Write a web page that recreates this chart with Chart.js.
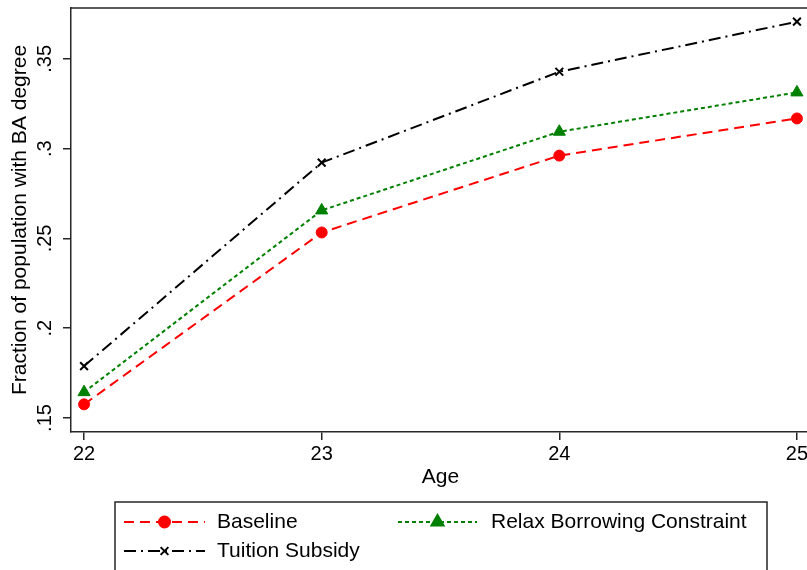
<!DOCTYPE html>
<html>
<head>
<meta charset="utf-8">
<script src="https://cdn.jsdelivr.net/npm/chart.js@4/dist/chart.umd.min.js"></script>
<style>
  html, body { margin: 0; padding: 0; background: #fff; overflow: hidden; }
  #wrap { width: 820px; height: 570px; }
</style>
</head>
<body>
<div id="wrap"><canvas id="ageChart" width="820" height="570"></canvas></div>
<script>
// Data
const ages = [22, 23, 24, 25];
const baseline = [0.1576, 0.2533, 0.2961, 0.3168];
const relaxBorrowing = [0.1644, 0.2656, 0.3094, 0.3313];
const tuitionSubsidy = [0.1789, 0.2922, 0.3428, 0.3707];
const yTicks = [0.15, 0.2, 0.25, 0.3, 0.35];
const yTickLabels = ['.15', '.2', '.25', '.3', '.35'];
const seriesNames = ['Baseline', 'Relax Borrowing Constraint', 'Tuition Subsidy'];

const FONT = '"Liberation Sans", Arial, Helvetica, sans-serif';
const frameColor = '#262626';

const toPoints = vals => ages.map((a, i) => ({ x: a, y: vals[i] }));

const datasets = [
  {
    label: seriesNames[0],
    data: toPoints(baseline),
    borderColor: '#ff0000',
    backgroundColor: '#ff0000',
    borderDash: [10, 6],
    pointStyle: 'circle',
    pointRadius: 5.5,
    pointBorderWidth: 1
  },
  {
    label: seriesNames[1],
    data: toPoints(relaxBorrowing),
    borderColor: '#008000',
    backgroundColor: '#008000',
    borderDash: [4, 3],
    pointStyle: 'triangle',
    pointRadius: 7,
    pointBorderWidth: 1
  },
  {
    label: seriesNames[2],
    data: toPoints(tuitionSubsidy),
    borderColor: '#000000',
    backgroundColor: '#000000',
    borderDash: [12, 5, 2, 5],
    pointStyle: 'crossRot',
    pointRadius: 5.5,
    pointBorderWidth: 2
  }
];
datasets.forEach(d => { d.borderWidth = 2; d.tension = 0; d.fill = false; });

// Extra drawing: frame top, rotated y tick labels, axis titles, legend box
const stataDecor = {
  id: 'stataDecor',
  afterDraw(chart) {
    const { ctx, chartArea, scales } = chart;
    ctx.save();

    // remaining sides of the plot frame
    ctx.strokeStyle = frameColor;
    ctx.lineWidth = 1.5;
    ctx.beginPath();
    ctx.moveTo(chartArea.left, chartArea.top);
    ctx.lineTo(chartArea.right, chartArea.top);
    ctx.lineTo(chartArea.right, chartArea.bottom);
    ctx.stroke();

    // y tick labels, rotated like Stata
    ctx.fillStyle = '#000';
    ctx.font = '20px ' + FONT;
    ctx.textAlign = 'center';
    ctx.textBaseline = 'middle';
    yTicks.forEach((v, i) => {
      const y = scales.y.getPixelForValue(v);
      ctx.save();
      ctx.translate(45, y);
      ctx.rotate(-Math.PI / 2);
      ctx.fillText(yTickLabels[i], 0, 0);
      ctx.restore();
    });

    // axis titles
    ctx.font = '21px ' + FONT;
    ctx.save();
    ctx.translate(20, (chartArea.top + chartArea.bottom) / 2);
    ctx.rotate(-Math.PI / 2);
    ctx.fillText('Fraction of population with BA degree', 0, 0);
    ctx.restore();
    ctx.fillText('Age', (chartArea.left + chartArea.right) / 2, 477);

    // legend
    ctx.strokeStyle = frameColor;
    ctx.lineWidth = 1.5;
    ctx.strokeRect(115, 502, 652, 100);

    const slots = [
      { x0: 124, x1: 205, y: 522, tx: 217 },
      { x0: 398, x1: 477, y: 522, tx: 491 },
      { x0: 124, x1: 205, y: 551, tx: 217 }
    ];
    chart.data.datasets.forEach((ds, i) => {
      const s = slots[i];
      ctx.save();
      ctx.strokeStyle = ds.borderColor;
      ctx.lineWidth = ds.borderWidth;
      ctx.setLineDash(ds.borderDash);
      ctx.beginPath();
      ctx.moveTo(s.x0, s.y);
      ctx.lineTo(s.x1, s.y);
      ctx.stroke();
      ctx.setLineDash([]);
      ctx.fillStyle = ds.backgroundColor;
      Chart.helpers.drawPoint(ctx, {
        pointStyle: ds.pointStyle,
        radius: ds.pointRadius,
        borderWidth: ds.pointBorderWidth,
        rotation: 0
      }, (s.x0 + s.x1) / 2, s.y);
      ctx.restore();

      ctx.fillStyle = '#000';
      ctx.textAlign = 'left';
      ctx.textBaseline = 'middle';
      ctx.font = '21px ' + FONT;
      ctx.fillText(ds.label, s.tx, s.y);
    });

    ctx.restore();
  }
};

new Chart(document.getElementById('ageChart'), {
  type: 'line',
  data: { datasets },
  plugins: [stataDecor],
  options: {
    responsive: false,
    animation: false,
    layout: { padding: { top: 7, right: 10, left: 0, bottom: 0 } },
    plugins: {
      legend: { display: false },
      tooltip: { enabled: false }
    },
    scales: {
      x: {
        type: 'linear',
        min: 21.945,
        max: 25.055,
        afterBuildTicks: s => { s.ticks = ages.map(v => ({ value: v })); },
        afterFit: s => { s.height = 138; },
        ticks: {
          autoSkip: false,
          maxRotation: 0,
          padding: 2,
          color: '#000',
          font: { family: FONT, size: 20 },
          callback: v => String(v)
        },
        grid: { drawOnChartArea: false, tickLength: 8, color: frameColor, lineWidth: 1.5 },
        border: { color: frameColor, width: 1.5 }
      },
      y: {
        type: 'linear',
        min: 0.1422,
        max: 0.3783,
        afterBuildTicks: s => { s.ticks = yTicks.map(v => ({ value: v })); },
        afterFit: s => { s.width = 71; },
        ticks: { display: false },
        grid: { drawOnChartArea: false, tickLength: 8, color: frameColor, lineWidth: 1.5 },
        border: { color: frameColor, width: 1.5 }
      }
    }
  }
});
</script>
</body>
</html>
